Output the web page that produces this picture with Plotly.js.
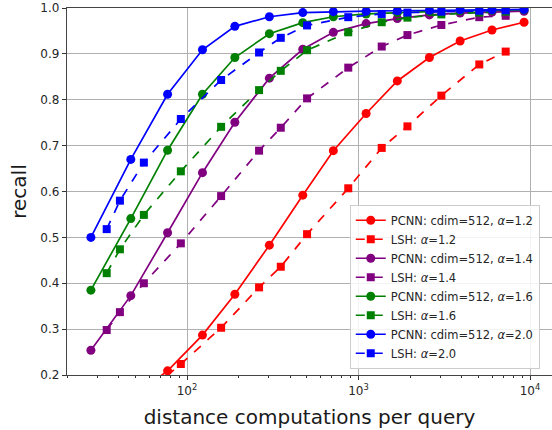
<!DOCTYPE html>
<html>
<head>
<meta charset="utf-8">
<script src="https://cdn.plot.ly/plotly-3.0.1.min.js"></script>
<style>html,body{margin:0;padding:0;overflow:hidden;background:#fff;}</style>
</head>
<body>
<div id="chart" style="width:552px;height:430px;"></div>
<script>
// distance computations per query (x) for the PCNN runs and LSH runs
const pcnnX = [27.5, 47, 77, 123, 190, 302, 473, 713, 1107, 1683, 2590, 3910, 6000, 9230];
const lshX  = [34, 40.6, 56, 92, 158, 263, 352, 501, 871, 1365, 1928, 3040, 5058, 7211];

// recall values
const pcnn12 = [0.09, 0.15, 0.209, 0.287, 0.376, 0.483, 0.592, 0.689, 0.770, 0.841, 0.892, 0.928, 0.952, 0.969];
const lsh12  = [0.115, 0.13, 0.155, 0.224, 0.303, 0.391, 0.436, 0.507, 0.607, 0.695, 0.742, 0.809, 0.877, 0.905];
const pcnn14 = [0.254, 0.373, 0.510, 0.641, 0.751, 0.847, 0.910, 0.947, 0.966, 0.977, 0.985, 0.989, 0.991, 0.993];
const lsh14  = [0.298, 0.337, 0.400, 0.487, 0.590, 0.689, 0.739, 0.803, 0.870, 0.916, 0.941, 0.963, 0.980, 0.983];
const pcnn16 = [0.385, 0.541, 0.690, 0.812, 0.892, 0.944, 0.968, 0.981, 0.987, 0.990, 0.992, 0.994, 0.995, 0.996];
const lsh16  = [0.422, 0.474, 0.549, 0.644, 0.741, 0.821, 0.863, 0.908, 0.947, 0.969, 0.979, 0.986, 0.990, 0.992];
const pcnn20 = [0.500, 0.670, 0.812, 0.909, 0.960, 0.981, 0.990, 0.992, 0.993, 0.994, 0.995, 0.996, 0.996, 0.997];
const lsh20  = [0.518, 0.580, 0.663, 0.758, 0.843, 0.903, 0.935, 0.962, 0.980, 0.987, 0.990, 0.992, 0.994, 0.995];

const seriesNames = [
  'PCNN: cdim=512, <i>α</i>=1.2', 'LSH: <i>α</i>=1.2',
  'PCNN: cdim=512, <i>α</i>=1.4', 'LSH: <i>α</i>=1.4',
  'PCNN: cdim=512, <i>α</i>=1.6', 'LSH: <i>α</i>=1.6',
  'PCNN: cdim=512, <i>α</i>=2.0', 'LSH: <i>α</i>=2.0'
];
const xTickVals = [100, 1000, 10000];
const xTickText = ['10<sup>2</sup>', '10<sup>3</sup>', '10<sup>4</sup>'];
const yTickVals = [0.2, 0.3, 0.4, 0.5, 0.6, 0.7, 0.8, 0.9, 1.0];

const colors = ['#ff0000', '#800080', '#008000', '#0000ff'];
const ySeries = [pcnn12, lsh12, pcnn14, lsh14, pcnn16, lsh16, pcnn20, lsh20];

const traces = ySeries.map((ys, i) => {
  const isLSH = i % 2 === 1;
  const c = colors[Math.floor(i / 2)];
  return {
    type: 'scatter',
    mode: 'lines+markers',
    x: isLSH ? lshX : pcnnX,
    y: ys,
    name: seriesNames[i],
    line: {color: c, width: 1.7, dash: isLSH ? 'dash' : 'solid'},
    marker: {color: c, size: isLSH ? 8 : 9, symbol: isLSH ? 'square' : 'circle'},
    cliponaxis: true
  };
});

const minorVals = [];
[10, 100, 1000, 10000].forEach(d => { for (let k = 2; k <= 9; k++) minorVals.push(k * d); });

const layout = {
  width: 552, height: 430,
  margin: {l: 67, r: 0, t: 8, b: 55},
  paper_bgcolor: '#fff', plot_bgcolor: '#fff',
  font: {family: 'DejaVu Sans, sans-serif', color: '#262626', size: 12},
  showlegend: true,
  xaxis: {
    type: 'log',
    range: [1.30, 4.128],
    automargin: false,
    tickmode: 'array', tickvals: xTickVals, ticktext: xTickText,
    ticks: 'outside', ticklen: 4, tickcolor: '#333',
    tickfont: {size: 12, color: '#262626'},
    showgrid: true, gridcolor: '#b0b0b0', gridwidth: 1,
    showline: true, linecolor: '#444', linewidth: 1.2, mirror: true,
    zeroline: false,
    minor: {tickmode: 'array', tickvals: minorVals, ticks: 'outside', ticklen: 2, tickcolor: '#333', showgrid: false},
    title: {text: 'distance computations per query', font: {size: 20, color: '#1a1a1a'}, standoff: 13}
  },
  yaxis: {
    range: [0.2, 1.0],
    automargin: false,
    tickmode: 'array', tickvals: yTickVals, ticktext: yTickVals.map(v => v.toFixed(1)),
    ticks: 'outside', ticklen: 4, tickcolor: '#333',
    tickfont: {size: 12, color: '#262626'},
    showgrid: true, gridcolor: '#b0b0b0', gridwidth: 1,
    showline: true, linecolor: '#444', linewidth: 1.2, mirror: false,
    zeroline: false,
    title: {text: 'recall', font: {size: 20, color: '#1a1a1a'}, standoff: 8}
  },
  legend: {
    x: 0.583, y: 0.017, xanchor: 'left', yanchor: 'bottom',
    bgcolor: 'rgba(255,255,255,0.85)', bordercolor: '#cccccc', borderwidth: 1,
    font: {size: 11.5, color: '#262626'},
    tracegroupgap: 0
  }
};

Plotly.newPlot('chart', traces, layout, {displayModeBar: false, staticPlot: true});
</script>
</body>
</html>
